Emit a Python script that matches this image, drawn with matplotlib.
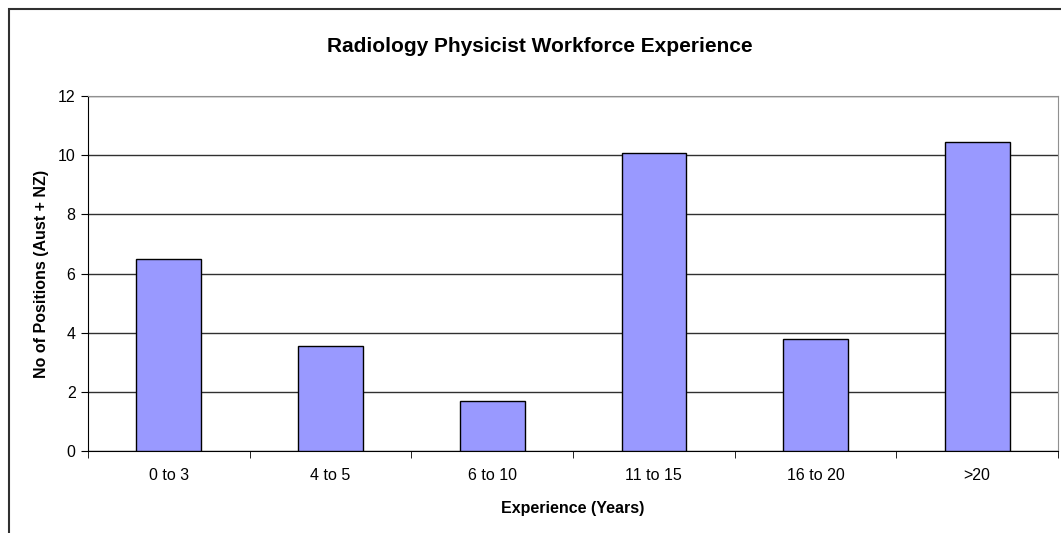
import matplotlib
matplotlib.use("Agg")
import matplotlib.pyplot as plt
import numpy as np
from matplotlib.patches import Rectangle

categories = ["0 to 3", "4 to 5", "6 to 10", "11 to 15", "16 to 20", ">20"]
positions = [6.5, 3.55, 1.7, 10.07, 3.77, 10.43]

plt.rcParams['font.family'] = ['Liberation Sans', 'DejaVu Sans']

fig = plt.figure(figsize=(10.61, 5.33), dpi=100)
ax = fig.add_axes([88/1061, 82/533, 970/1061, 355/533])

xs = np.arange(len(categories))
ax.bar(xs, positions, width=0.4, color='#9999FF', edgecolor='black', linewidth=1, zorder=3)

ax.set_xlim(-0.5, len(categories) - 0.5)
ax.set_ylim(0, 12)
ax.set_yticks(np.arange(0, 13, 2))
ax.yaxis.grid(True, color='#303030', linewidth=1)
ax.set_axisbelow(True)

ax.set_xticks(xs)
ax.set_xticklabels(categories, fontsize=11.5)
ax.set_xticks(np.arange(-0.5, len(categories)), minor=True)
ax.tick_params(axis='x', which='major', length=0, pad=12)
ax.tick_params(axis='x', which='minor', length=5, direction='out', color='black')
ax.tick_params(axis='y', length=5, direction='out', labelsize=11.5, pad=4)

for s in ['top', 'right']:
    ax.spines[s].set_color('#909090')
for s in ['left', 'bottom']:
    ax.spines[s].set_color('black')

ax.set_xlabel("Experience (Years)", fontsize=11.5, fontweight='bold', labelpad=13)
ax.set_ylabel("No of Positions (Aust + NZ)", fontsize=11.5, fontweight='bold', labelpad=6)
fig.text(540/1061, 1 - 46/533, "Radiology Physicist Workforce Experience",
         fontsize=15, fontweight='bold', ha='center', va='center')

# outer chart frame (cut off at the right and bottom)
fig.patches.append(Rectangle((8.5/1061, -0.1), 1.2, 1 - 8.5/533 + 0.1,
                             transform=fig.transFigure, fill=False,
                             edgecolor='#303030', linewidth=1.5))

fig.savefig("out.png", dpi=100)
